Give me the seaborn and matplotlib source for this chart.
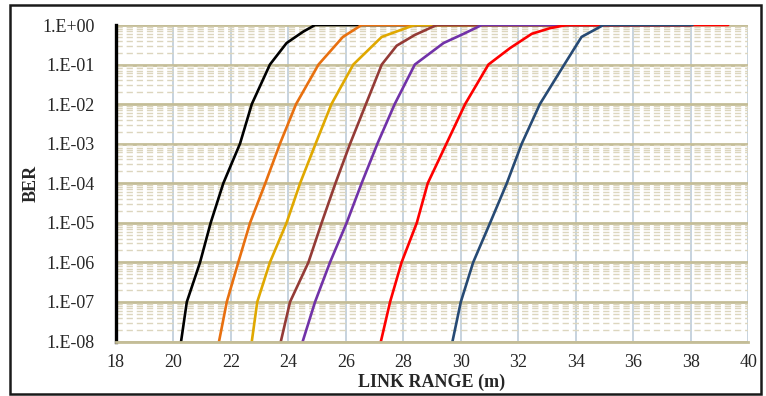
import numpy as np
import pandas as pd
import seaborn as sns
import matplotlib.pyplot as plt
from matplotlib.patches import Rectangle
from matplotlib.ticker import LogLocator, NullFormatter

# link range (m) vs BER
black_x = [20.27, 20.47, 20.93, 21.3, 21.74, 22.32, 22.73, 23.36, 23.94, 24.52, 24.93, 38.0]
black_y = [1e-8, 1e-7, 1e-6, 1e-5, 1e-4, 1e-3, 1e-2, 1e-1, 0.35, 0.68, 1, 1]

orange_x = [21.59, 21.86, 22.26, 22.67, 23.2, 23.71, 24.27, 25.05, 25.9, 26.55, 38.0]
orange_y = [1e-8, 1e-7, 1e-6, 1e-5, 1e-4, 1e-3, 1e-2, 1e-1, 0.5, 1, 1]

gold_x = [22.73, 22.92, 23.36, 23.94, 24.41, 24.95, 25.5, 26.26, 27.25, 28.12, 28.4, 38.0]
gold_y = [1e-8, 1e-7, 1e-6, 1e-5, 1e-4, 1e-3, 1e-2, 1e-1, 0.5, 0.85, 1, 1]

brown_x = [23.74, 24.06, 24.7, 25.16, 25.64, 26.15, 26.7, 27.25, 27.77, 28.4, 29.16, 38.0]
brown_y = [1e-8, 1e-7, 1e-6, 1e-5, 1e-4, 1e-3, 1e-2, 1e-1, 0.3, 0.56, 1, 1]

purple_x = [24.5, 24.93, 25.45, 26.03, 26.55, 27.1, 27.7, 28.4, 29.4, 30.1, 30.73, 38.0]
purple_y = [1e-8, 1e-7, 1e-6, 1e-5, 1e-4, 1e-3, 1e-2, 1e-1, 0.35, 0.6, 1, 1]

red_x = [27.22, 27.54, 27.94, 28.47, 28.85, 29.5, 30.15, 30.96, 31.71, 32.47, 33.1, 33.68, 39.3]
red_y = [1e-8, 1e-7, 1e-6, 1e-5, 1e-4, 1e-3, 1e-2, 1e-1, 0.26, 0.6, 0.83, 1, 1]

navy_x = [29.71, 30.0, 30.43, 31.02, 31.6, 32.12, 32.75, 33.6, 34.2, 34.96, 38.06]
navy_y = [1e-8, 1e-7, 1e-6, 1e-5, 1e-4, 1e-3, 1e-2, 1e-1, 0.5, 1, 1]

series = [
    (black_x, black_y, "#000000"),
    (orange_x, orange_y, "#E8700F"),
    (gold_x, gold_y, "#E0A800"),
    (brown_x, brown_y, "#943B36"),
    (purple_x, purple_y, "#7132A8"),
    (red_x, red_y, "#FF0000"),
    (navy_x, navy_y, "#274A74"),
]

ytick_vals = [1e0, 1e-1, 1e-2, 1e-3, 1e-4, 1e-5, 1e-6, 1e-7, 1e-8]
ytick_labels = ["1.E+00", "1.E-01", "1.E-02", "1.E-03", "1.E-04",
                "1.E-05", "1.E-06", "1.E-07", "1.E-08"]
xtick_vals = [18, 20, 22, 24, 26, 28, 30, 32, 34, 36, 38, 40]

sns.set_style("white")
plt.rcParams["font.family"] = ["Liberation Serif", "DejaVu Serif"]

fig = plt.figure(figsize=(7.66, 3.96), dpi=100)
W, H = 766, 396
ax = fig.add_axes([115.8 / W, 1 - 341.5 / H, (748.3 - 115.8) / W, (341.5 - 25) / H])

# outer frame
fig.patches.append(Rectangle((10 / W, 2.5 / H), (761 - 10) / W, (391 - 2.5) / H,
                             transform=fig.transFigure, fill=False,
                             edgecolor="#1a1a1a", linewidth=1.8, zorder=0))

ax.set_yscale("log")
ax.set_xlim(18, 40)
ax.set_ylim(1e-8, 1)

# grids
ax.yaxis.set_minor_locator(LogLocator(base=10, subs=np.arange(2, 10), numticks=20))
ax.yaxis.set_minor_formatter(NullFormatter())
ax.grid(which="minor", axis="y", color="#DCD6BE", linewidth=1.0,
        linestyle=(0, (4.5, 2.8)))
ax.grid(which="major", axis="x", color="#C3D0DC", linewidth=1.3)
ax.grid(which="major", axis="y", color="#C4BD97", linewidth=2.0)
ax.set_axisbelow(True)

for x, y, c in series:
    df = pd.DataFrame({"range": x, "ber": y})
    sns.lineplot(data=df, x="range", y="ber", color=c, linewidth=1.9,
                 ax=ax, sort=False, estimator=None)

ax.set_xticks(xtick_vals)
ax.set_xticklabels([str(v) for v in xtick_vals])
ax.set_yticks(ytick_vals)
ax.set_yticklabels(ytick_labels)
ax.tick_params(axis="y", which="major", direction="out", length=5, width=2,
               color="black", labelsize=13, pad=10)
ax.tick_params(axis="y", which="minor", length=0)
ax.tick_params(axis="x", length=0, labelsize=13, pad=9)

for s in ["top", "right"]:
    ax.spines[s].set_visible(False)
ax.spines["left"].set_color("black")
ax.spines["left"].set_linewidth(2.4)
ax.spines["bottom"].set_color("#C4BD97")
ax.spines["bottom"].set_linewidth(2.0)

ax.set_xlabel("LINK RANGE (m)", fontsize=13, fontweight="bold", labelpad=2)
ax.set_ylabel("BER", fontsize=13, fontweight="bold", labelpad=2)

fig.savefig("out.png", dpi=100)
